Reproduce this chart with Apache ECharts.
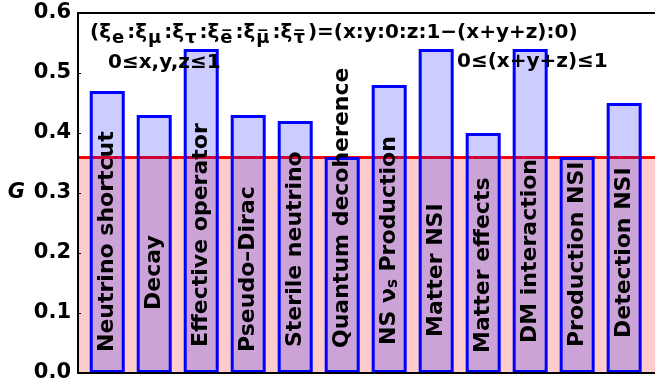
<!DOCTYPE html>
<html>
<head>
<meta charset="utf-8">
<script src="https://cdn.jsdelivr.net/npm/echarts@6/dist/echarts.min.js"></script>
<style>
  html, body { margin: 0; padding: 0; background: #fff; }
  #main { width: 655px; height: 387px; }
</style>
</head>
<body>
<div id="main"></div>
<script>
// scenarios and their G values
var scenarios = ['Neutrino shortcut', 'Decay', 'Effective operator', 'Pseudo\u2013Dirac',
  'Sterile neutrino', 'Quantum decoherence', 'NS {nu|\u03bd}{sub|s} Production', 'Matter NSI',
  'Matter effects', 'DM interaction', 'Production NSI', 'Detection NSI'];
var gValues = [0.47, 0.43, 0.54, 0.43, 0.42, 0.36, 0.48, 0.54, 0.40, 0.54, 0.36, 0.45];
var threshold = 0.36;
var yTicks = [0, 0.1, 0.2, 0.3, 0.4, 0.5, 0.6];

// label lift above the axis, px (styling only)
var labelLift = [21, 63, 26, 21, 26, 25, 28, 36, 20, 30, 26, 35];

var FONT = 'DejaVu Sans';
var chart = echarts.init(document.getElementById('main'), null, { renderer: 'canvas' });

var barData = gValues.map(function (v, i) {
  return {
    value: [i, v],
    label: { distance: labelLift[i] }
  };
});

var option = {
  animation: false,
  grid: { left: 78, right: -5, top: 13, bottom: 14 },
  xAxis: [{
    type: 'value', min: -0.622, max: 11.656, z: 5,
    axisLine: { show: true, onZero: false, lineStyle: { color: '#000', width: 2 } },
    axisTick: { show: false }, axisLabel: { show: false }, splitLine: { show: false }
  }, {
    type: 'value', position: 'top', min: -0.622, max: 11.656, z: 5,
    axisLine: { show: true, onZero: false, lineStyle: { color: '#000', width: 2 } },
    axisTick: { show: false }, axisLabel: { show: false }, splitLine: { show: false }
  }],
  yAxis: {
    type: 'value', min: yTicks[0], max: yTicks[yTicks.length - 1], interval: 0.1, z: 5,
    name: 'G', nameLocation: 'middle', nameRotate: 0, nameGap: 53,
    nameTextStyle: { fontFamily: FONT, fontWeight: 'bold', fontStyle: 'italic', fontSize: 21, color: '#000' },
    axisLine: { show: true, onZero: false, lineStyle: { color: '#000', width: 2 } },
    axisTick: { show: true, inside: true, length: 3, lineStyle: { color: '#000', width: 1 } },
    axisLabel: {
      margin: 7, fontFamily: FONT, fontWeight: 'bold', fontSize: 21, color: '#000',
      formatter: function (v) { return v.toFixed(1); }
    },
    splitLine: { show: false }
  },
  series: [{
    // threshold band and line, kept under the bars
    type: 'line',
    z: 1,
    data: [],
    markArea: {
      z: 1, silent: true,
      itemStyle: { color: '#ffcccc' },
      data: [[{ yAxis: 0 }, { yAxis: threshold }]]
    },
    markLine: {
      z: 1, silent: true, symbol: 'none', label: { show: false },
      lineStyle: { color: '#ff0000', width: 3, type: 'solid' },
      data: [{ yAxis: threshold }]
    }
  }, {
    type: 'bar',
    z: 3,
    barWidth: 35,
    data: barData,
    itemStyle: { color: 'rgba(0,0,255,0.2)', borderColor: '#0000ff', borderWidth: 3 },
    label: {
      show: true, position: 'insideBottom', rotate: 90, align: 'left', verticalAlign: 'middle',
      fontFamily: FONT, fontWeight: 'bold', fontSize: 22, color: '#000',
      formatter: function (p) { return scenarios[p.dataIndex]; },
      rich: {
        nu: { fontFamily: FONT, fontWeight: 'bold', fontSize: 22, color: '#000' },
        sub: { fontFamily: FONT, fontWeight: 'bold', fontSize: 15, color: '#000', verticalAlign: 'bottom', lineHeight: 15 }
      }
    }
  }],
  graphic: [{
    type: 'text', left: 90, top: 19, z: 10,
    style: {
      text: '(\u03be{s|e}:\u03be{s|\u03bc}:\u03be{s|\u03c4}:\u03be{s|e\u0305}:\u03be{s|\u03bc\u0305}:\u03be{s|\u03c4\u0305})=(x:y:0:z:1\u2212(x+y+z):0)',
      font: 'bold 20px "DejaVu Sans"', fill: '#000', lineHeight: 28,
      rich: {
        s: { font: 'bold 18px "DejaVu Sans"', fill: '#000', lineHeight: 16, verticalAlign: 'bottom', padding: [0, 3, 0, 1] }
      }
    }
  }, {
    type: 'text', left: 108, top: 53, z: 10,
    style: { text: '0\u2264x,y,z\u22641', font: 'bold 20px "DejaVu Sans"', fill: '#000' }
  }, {
    type: 'text', left: 457, top: 52, z: 10,
    style: { text: '0\u2264(x+y+z)\u22641', font: 'bold 20px "DejaVu Sans"', fill: '#000' }
  }]
};

chart.setOption(option);
</script>
</body>
</html>
